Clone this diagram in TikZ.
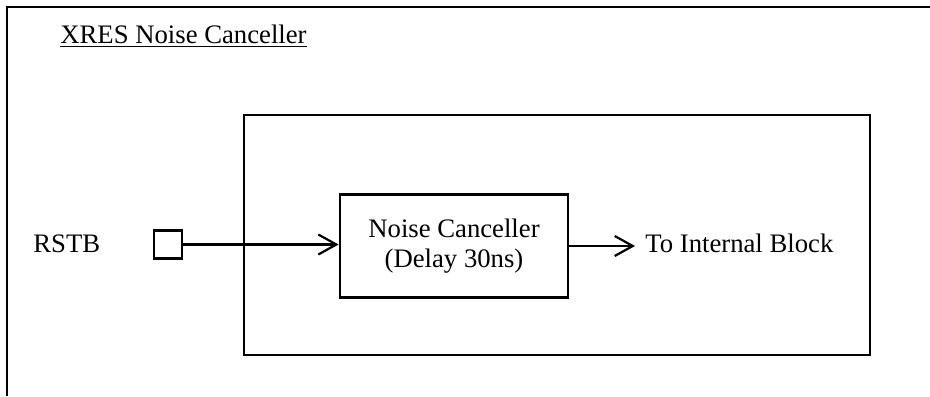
\documentclass[tikz,border=0pt]{standalone}
\usepackage{fontspec}
\setmainfont{Liberation Serif}
\usetikzlibrary{arrows.meta}

\tikzset{
  blk/.style={draw, line width=1.4pt, inner sep=0pt},
  lbl/.style={inner sep=0pt, anchor=base west},
  sig/.style={line width=1.1pt, -{Straight Barb[length=9pt,width=10pt,line width=1.1pt]}}
}

\begin{document}
\begin{tikzpicture}[x=0.5pt,y=-0.5pt,font=\fontsize{13.35pt}{15pt}\selectfont]
    \useasboundingbox (0,0) rectangle (930,396);

    % Marco exterior (solo arriba e izquierda)
    \draw[line width=1.4pt] (7,396) -- (7,7) -- (930,7);
    \node[lbl] (title) at (60,43) {\underline{XRES Noise Canceller}};

    % Bloque interno
    \node[blk, minimum width=313pt, minimum height=120pt] (chip) at (557,235) {};

    % Entrada RSTB
    \node[lbl] (rstb) at (33,252) {RSTB};
    \node[blk, line width=1.2pt, minimum size=14pt] (pad) at (168,244.5) {};

    % Cancelador de ruido
    \node[blk, minimum width=114pt, minimum height=51.5pt, align=center] (nc) at (454,246)
        {Noise Canceller\\(Delay 30ns)};

    % Salida
    \coordinate (tip) at (635,246);
    \node[lbl] (dst) at (645,252) {To Internal Block};

    \draw[sig] (pad.east) -- (pad.east -| nc.west);
    \draw[sig] (nc.east) -- (tip);
\end{tikzpicture}
\end{document}
